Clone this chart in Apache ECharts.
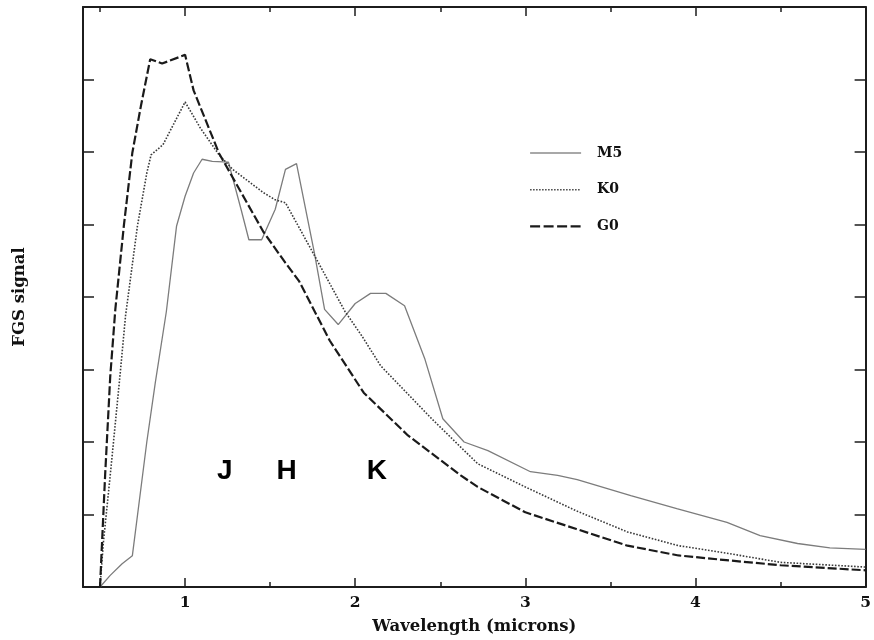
<!DOCTYPE html>
<html>
<head>
<meta charset="utf-8">
<title>FGS signal vs wavelength</title>
<script src="https://cdn.jsdelivr.net/npm/echarts@6/dist/echarts.min.js"></script>
<style>
  html, body { margin: 0; padding: 0; background: #ffffff; }
  #chart { width: 874px; height: 640px; }
</style>
</head>
<body>
<div id="chart"></div>
<script>
// Stellar spectral types plotted
const seriesNames = ['M5', 'K0', 'G0'];

// M5 star
const m5Wave   = [0.5, 0.56, 0.63, 0.69, 0.775, 0.825, 0.89, 0.95, 1.0, 1.05, 1.1, 1.16, 1.255, 1.33, 1.375, 1.45, 1.53, 1.59, 1.655, 1.76, 1.82, 1.9, 2.0, 2.09, 2.18, 2.29, 2.41, 2.515, 2.64, 2.78, 3.03, 3.19, 3.305, 3.62, 3.89, 4.185, 4.38, 4.6, 4.79, 5.0];
const m5Signal = [0, 0.16, 0.32, 0.43, 2.0, 2.82, 3.8, 4.98, 5.39, 5.71, 5.9, 5.87, 5.86, 5.2, 4.79, 4.79, 5.21, 5.76, 5.84, 4.61, 3.83, 3.62, 3.91, 4.05, 4.05, 3.88, 3.14, 2.32, 2.0, 1.88, 1.59, 1.54, 1.48, 1.26, 1.08, 0.89, 0.71, 0.6, 0.54, 0.52];

// K0 star
const k0Wave   = [0.5, 0.52, 0.56, 0.62, 0.65, 0.72, 0.775, 0.8, 0.87, 1.0, 1.09, 1.2, 1.28, 1.46, 1.53, 1.59, 1.74, 1.94, 2.04, 2.15, 2.45, 2.72, 3.0, 3.3, 3.6, 3.9, 4.2, 4.5, 5.0];
const k0Signal = [0, 0.62, 1.54, 2.98, 3.74, 4.98, 5.71, 5.96, 6.1, 6.69, 6.33, 5.96, 5.76, 5.44, 5.34, 5.3, 4.66, 3.8, 3.46, 3.05, 2.32, 1.7, 1.38, 1.05, 0.76, 0.57, 0.46, 0.34, 0.275];

// G0 star
const g0Wave   = [0.5, 0.53, 0.56, 0.59, 0.64, 0.69, 0.74, 0.795, 0.865, 1.0, 1.05, 1.2, 1.46, 1.59, 1.67, 1.85, 2.05, 2.31, 2.62, 2.72, 3.0, 3.3, 3.6, 3.9, 4.2, 4.5, 5.0];
const g0Signal = [0, 1.54, 2.9, 3.83, 4.98, 5.99, 6.63, 7.28, 7.22, 7.34, 6.85, 5.98, 4.9, 4.47, 4.22, 3.4, 2.68, 2.09, 1.54, 1.38, 1.03, 0.8, 0.57, 0.435, 0.366, 0.3, 0.23];

// Photometric band markers
const bandNames  = ['J', 'H', 'K'];
const bandWave   = [1.233, 1.597, 2.127];
const bandSignal = [1.59, 1.59, 1.59];

// Axis ticks
const xMajorTicks = [1, 2, 3, 4, 5];
const xMinorTicks = [0.5, 1.5, 2.5, 3.5, 4.5];
const xRange = [0.4, 5];
const yRange = [0, 8];

const pairs = (xs, ys) => xs.map((x, i) => [x, ys[i]]);

const labelFont = {
  fontFamily: '"DejaVu Serif", serif',
  fontWeight: 'bold',
  color: '#111',
  fontSize: 16.5
};
const frame = { show: true, lineStyle: { color: '#1c1c1c', width: 2 } };

function xAxisDef(position, ticks, len, withLine, withLabel) {
  return {
    type: 'value', position: position, min: xRange[0], max: xRange[1],
    axisLine: withLine ? frame : { show: false },
    axisTick: { show: true, inside: true, length: len, customValues: ticks,
                lineStyle: { color: '#1c1c1c', width: 1.5 } },
    axisLabel: withLabel
      ? Object.assign({ show: true, margin: 8, customValues: ticks }, labelFont, { fontSize: 15.5 })
      : { show: false },
    splitLine: { show: false }
  };
}

const xAxes = [
  xAxisDef('bottom', xMajorTicks, 9, true, true),
  xAxisDef('bottom', xMinorTicks, 5, false, false),
  xAxisDef('top', xMajorTicks, 9, true, false),
  xAxisDef('top', xMinorTicks, 5, false, false)
];
Object.assign(xAxes[0], {
  name: 'Wavelength (microns)', nameLocation: 'middle', nameGap: 31,
  nameTextStyle: labelFont
});

function yAxisDef(position) {
  return {
    type: 'value', position: position, min: yRange[0], max: yRange[1], interval: 1,
    axisLine: frame,
    axisTick: { show: true, inside: true, length: 11,
                lineStyle: { color: '#1c1c1c', width: 1.5 } },
    axisLabel: { show: false },
    splitLine: { show: false }
  };
}
const yAxes = [yAxisDef('left'), yAxisDef('right')];
Object.assign(yAxes[0], {
  name: 'FGS signal', nameLocation: 'middle', nameGap: 55,
  nameTextStyle: labelFont
});

const chart = echarts.init(document.getElementById('chart'), null, { renderer: 'canvas' });

chart.setOption({
  backgroundColor: '#ffffff',
  animation: false,
  grid: { left: 83, right: 5, top: 7, bottom: 52, containLabel: false },
  xAxis: xAxes,
  yAxis: yAxes,
  legend: {
    orient: 'vertical', left: 529, top: 146, padding: 0,
    itemWidth: 51, itemHeight: 14, itemGap: 22.7,
    itemStyle: { opacity: 0 },
    data: [
      { name: 'M5', lineStyle: { color: '#a8a8a8', width: 2.2, type: 'solid' } },
      { name: 'K0', lineStyle: { color: '#444', width: 1.5, type: [1.5, 1.5] } },
      { name: 'G0', lineStyle: { color: '#1a1a1a', width: 2.2, type: [10, 3.5] } }
    ],
    textStyle: Object.assign({}, labelFont, { fontSize: 14, padding: [0, 0, 0, 11] })
  },
  series: [
    {
      name: seriesNames[0], type: 'line', data: pairs(m5Wave, m5Signal),
      showSymbol: false, symbol: 'none', smooth: false,
      lineStyle: { color: '#7c7c7c', width: 1.3, type: 'solid' },
      itemStyle: { color: '#7c7c7c' }
    },
    {
      name: seriesNames[1], type: 'line', data: pairs(k0Wave, k0Signal),
      showSymbol: false, symbol: 'none', smooth: false,
      lineStyle: { color: '#3a3a3a', width: 1.6, type: [1.6, 1.6] },
      itemStyle: { color: '#3a3a3a' }
    },
    {
      name: seriesNames[2], type: 'line', data: pairs(g0Wave, g0Signal),
      showSymbol: false, symbol: 'none', smooth: false,
      lineStyle: { color: '#1a1a1a', width: 2.2, type: [9, 3] },
      itemStyle: { color: '#1a1a1a' }
    },
    {
      name: 'bands', type: 'scatter', silent: true,
      symbolSize: 0, itemStyle: { color: '#000' },
      data: bandNames.map((n, i) => ({ name: n, value: [bandWave[i], bandSignal[i]] })),
      label: {
        show: true, position: [0, 0], align: 'center', verticalAlign: 'middle',
        formatter: p => p.name, opacity: 1,
        fontFamily: '"Liberation Sans", Arial, sans-serif', fontWeight: 'bold',
        fontSize: 28, color: '#000'
      }
    }
  ]
});
</script>
</body>
</html>
